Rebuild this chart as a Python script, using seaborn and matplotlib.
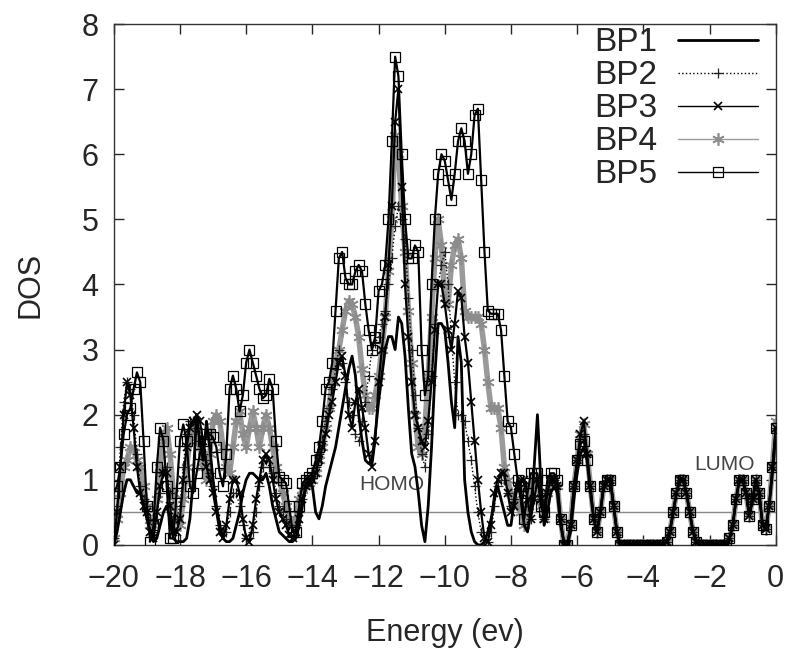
import numpy as np
import pandas as pd
import seaborn as sns
import matplotlib.pyplot as plt

# energy grid (eV); DOS values every 0.1 eV
energy = np.round(np.linspace(-20, 0, 201), 1)

bp1 = [0.0, 0.2, 0.5, 0.8, 1.0, 1.0, 0.9, 0.8, 0.8, 0.6,
       0.4, 0.2, 0.05, 0.1, 0.3, 0.5, 0.6, 0.4, 0.1, 0.05,
       0.05, 0.05, 0.1, 0.4, 1.0, 2.0, 1.6, 1.3, 1.9, 1.5,
       1.0, 0.6, 0.3, 0.1, 0.05, 0.05, 0.1, 0.3, 0.5, 0.8,
       1.0, 1.1, 1.1, 1.05, 1.0, 1.0, 1.1, 0.9, 0.6, 0.4,
       0.2, 0.15, 0.1, 0.05, 0.05, 0.1, 0.3, 0.6, 0.9, 0.95,
       0.9, 0.5, 0.4, 0.6, 0.9, 1.1, 1.3, 1.5, 1.8, 2.1,
       2.4, 2.7, 2.9, 2.6, 2.0, 1.6, 1.3, 1.25, 1.3, 1.7,
       2.2, 2.6, 3.0, 3.2, 3.2, 3.0, 3.5, 3.4, 2.9, 2.1,
       1.4, 1.2, 0.8, 0.3, 0.05, 0.6, 1.5, 2.6, 3.4, 3.4,
       3.3, 2.8, 2.2, 1.8, 3.2, 2.8, 1.0, 0.5, 0.2, 0.05,
       0.0, 0.0, 0.05, 0.2, 0.4, 0.7, 0.9, 0.7, 0.5, 0.3,
       0.3, 0.7, 1.0, 0.7, 0.3, 0.2, 0.5, 1.2, 2.0, 1.0,
       0.3, 0.5, 0.8, 0.9, 0.8, 0.3, 0.05, 0.0, 0.2, 0.7,
       1.1, 1.4, 1.5, 1.3, 0.8, 0.4, 0.2, 0.5, 0.9, 1.0,
       1.0, 0.6, 0.2, 0.0, 0.0, 0.0, 0.0, 0.0, 0.0, 0.0,
       0.0, 0.0, 0.0, 0.0, 0.0, 0.0, 0.0, 0.05, 0.2, 0.5,
       0.8, 1.0, 1.0, 0.8, 0.5, 0.2, 0.05, 0.0, 0.0, 0.0,
       0.0, 0.0, 0.0, 0.0, 0.0, 0.0, 0.1, 0.3, 0.7, 1.0,
       1.0, 0.8, 0.45, 0.7, 1.0, 0.8, 0.3, 0.25, 0.6, 1.1,
       1.7]

bp2 = [0.1, 0.6, 1.5, 2.2, 2.5, 2.4, 2.0, 1.4, 0.9, 0.7,
       0.6, 0.4, 0.2, 0.4, 0.8, 1.1, 1.2, 0.8, 0.4, 0.4,
       0.6, 1.2, 1.7, 1.9, 1.9, 1.8, 1.6, 1.4, 1.3, 1.1,
       0.9, 0.6, 0.3, 0.2, 0.2, 0.5, 0.8, 0.8, 0.6, 0.3,
       0.1, 0.1, 0.2, 0.5, 0.9, 1.2, 1.3, 1.2, 1.1, 0.8,
       0.6, 0.5, 0.4, 0.3, 0.2, 0.3, 0.5, 0.7, 0.9, 1.0,
       1.1, 1.2, 1.4, 1.6, 1.9, 2.1, 2.4, 2.7, 3.0, 2.8,
       2.5, 2.2, 2.0, 1.7, 1.6, 1.9, 2.2, 2.6, 3.0, 3.1,
       3.2, 3.4, 3.6, 4.0, 4.4, 4.9, 5.2, 5.0, 4.7, 3.8,
       3.0, 2.3, 1.8, 1.4, 1.2, 1.7, 2.6, 3.4, 4.0, 4.3,
       4.5, 4.0, 3.2, 2.5, 2.0, 2.0, 1.9, 1.6, 1.3, 0.9,
       0.5, 0.2, 0.0, 0.05, 0.2, 0.6, 0.9, 1.0, 1.0, 0.8,
       0.6, 0.7, 0.9, 0.9, 0.9, 0.6, 0.4, 0.7, 1.0, 0.7,
       0.4, 0.8, 1.0, 1.0, 0.9, 0.4, 0.0, 0.0, 0.3, 0.9,
       1.3, 1.6, 1.7, 1.4, 0.9, 0.4, 0.2, 0.5, 0.9, 1.0,
       1.0, 0.6, 0.2, 0.0, 0.0, 0.0, 0.0, 0.0, 0.0, 0.0,
       0.0, 0.0, 0.0, 0.0, 0.0, 0.0, 0.0, 0.05, 0.2, 0.5,
       0.8, 1.0, 1.0, 0.8, 0.5, 0.2, 0.05, 0.0, 0.0, 0.0,
       0.0, 0.0, 0.0, 0.0, 0.0, 0.0, 0.1, 0.3, 0.7, 1.0,
       1.0, 0.8, 0.45, 0.7, 1.0, 0.8, 0.3, 0.25, 0.6, 1.2,
       1.8]

bp3 = [0.0, 0.5, 1.2, 2.0, 2.5, 2.3, 1.8, 1.2, 0.8, 0.6,
       0.5, 0.2, 0.1, 0.5, 0.9, 1.1, 1.1, 0.6, 0.2, 0.2,
       0.4, 1.0, 1.5, 1.8, 1.9, 2.0, 1.9, 1.6, 1.2, 1.0,
       0.8, 0.5, 0.2, 0.1, 0.3, 0.7, 1.0, 1.0, 0.8, 0.4,
       0.1, 0.05, 0.3, 0.7, 1.0, 1.3, 1.4, 1.3, 1.0, 0.7,
       0.5, 0.4, 0.3, 0.15, 0.1, 0.2, 0.4, 0.7, 0.9, 1.0,
       1.0, 1.1, 1.3, 1.5, 1.7, 2.0, 2.2, 2.5, 2.8, 2.9,
       2.6, 2.0, 1.8, 2.2, 2.4, 2.1, 1.8, 1.4, 1.2, 1.6,
       2.5, 3.0, 3.5, 4.3, 5.2, 6.5, 7.0, 5.5, 4.0, 3.2,
       2.5, 2.0, 1.8, 1.6, 1.5, 1.9, 2.5, 3.3, 4.0, 4.0,
       3.7, 3.3, 3.0, 3.4, 3.9, 3.8, 3.2, 2.8, 2.2, 1.6,
       1.0, 0.5, 0.1, 0.05, 0.3, 0.8, 1.0, 1.1, 1.1, 0.8,
       0.5, 0.6, 0.9, 1.0, 1.0, 0.7, 0.4, 0.7, 1.0, 0.7,
       0.4, 0.8, 1.0, 1.0, 0.9, 0.4, 0.0, 0.0, 0.3, 0.9,
       1.3, 1.7, 1.9, 1.4, 0.9, 0.4, 0.2, 0.5, 0.9, 1.0,
       1.0, 0.6, 0.2, 0.0, 0.0, 0.0, 0.0, 0.0, 0.0, 0.0,
       0.0, 0.0, 0.0, 0.0, 0.0, 0.0, 0.0, 0.05, 0.2, 0.5,
       0.8, 1.0, 1.0, 0.8, 0.5, 0.2, 0.05, 0.0, 0.0, 0.0,
       0.0, 0.0, 0.0, 0.0, 0.0, 0.0, 0.1, 0.3, 0.7, 1.0,
       1.0, 0.8, 0.45, 0.7, 1.0, 0.8, 0.3, 0.25, 0.6, 1.2,
       1.8]

bp4 = [0.1, 0.4, 0.8, 1.2, 1.3, 1.5, 1.5, 1.3, 1.2, 0.9,
       0.6, 0.3, 0.3, 0.7, 1.2, 1.6, 1.8, 1.4, 0.8, 0.4,
       0.3, 0.7, 1.2, 1.6, 1.8, 1.7, 1.5, 1.2, 1.0, 1.4,
       1.9, 2.0, 1.9, 1.5, 1.2, 1.1, 1.5, 1.9, 2.05, 1.7,
       1.5, 1.8, 2.05, 1.8, 1.5, 1.8, 2.0, 1.8, 1.5, 1.2,
       1.0, 0.8, 0.6, 0.4, 0.3, 0.4, 0.7, 0.85, 0.9, 0.95,
       1.0, 1.1, 1.3, 1.5, 1.8, 2.1, 2.5, 2.8, 3.0, 3.3,
       3.6, 3.75, 3.7, 3.5, 3.2, 2.7, 2.3, 2.1, 2.1, 2.3,
       2.6, 3.0, 3.5, 4.2, 5.0, 6.3, 6.0, 5.2, 4.5, 3.6,
       2.8, 2.0, 1.5, 1.4, 1.8, 2.6, 3.5, 4.4, 5.0, 4.6,
       3.8, 3.7, 4.3, 4.6, 4.7, 4.4, 3.6, 3.5, 3.5, 3.5,
       3.5, 3.4, 3.0, 2.5, 2.1, 2.1, 2.1, 1.8, 1.2, 1.0,
       0.8, 0.7, 0.6, 0.5, 0.3, 0.6, 0.9, 1.0, 1.0, 0.6,
       0.4, 0.8, 1.0, 1.0, 0.9, 0.4, 0.0, 0.0, 0.3, 0.9,
       1.3, 1.7, 1.85, 1.4, 0.9, 0.4, 0.2, 0.5, 0.9, 1.0,
       1.0, 0.6, 0.2, 0.0, 0.0, 0.0, 0.0, 0.0, 0.0, 0.0,
       0.0, 0.0, 0.0, 0.0, 0.0, 0.0, 0.0, 0.05, 0.2, 0.5,
       0.8, 1.0, 1.0, 0.8, 0.5, 0.2, 0.05, 0.0, 0.0, 0.0,
       0.0, 0.0, 0.0, 0.0, 0.0, 0.0, 0.1, 0.3, 0.7, 1.0,
       1.0, 0.8, 0.45, 0.7, 1.0, 0.8, 0.3, 0.25, 0.6, 1.2,
       1.9]

bp5 = [0.8, 0.9, 1.2, 1.7, 2.0, 2.1, 2.4, 2.65, 2.5, 1.6,
       0.6, 0.05, 0.3, 1.2, 1.8, 1.6, 0.9, 0.1, 0.1, 0.8,
       1.6, 1.85, 1.6, 0.9, 0.8, 1.1, 1.4, 1.6, 1.7, 1.7,
       1.65, 1.5, 1.1, 0.9, 1.4, 2.4, 2.6, 2.4, 2.05, 2.3,
       2.8, 3.0, 2.8, 2.6, 2.4, 2.25, 2.3, 2.55, 2.4, 1.6,
       1.05, 1.0, 0.95, 0.6, 0.2, 0.2, 0.6, 0.95, 1.0, 1.05,
       1.1, 1.3, 1.5, 1.9, 2.4, 2.5, 2.8, 3.6, 4.4, 4.5,
       4.1, 4.0, 4.0, 4.2, 4.3, 4.2, 3.7, 3.3, 3.0, 3.2,
       3.9, 4.0, 4.3, 5.0, 6.2, 7.5, 7.2, 6.0, 5.0, 4.4,
       4.4, 4.6, 4.5, 3.0, 2.3, 2.6, 4.0, 5.0, 5.7, 6.0,
       5.9, 5.6, 5.3, 5.7, 6.2, 6.4, 6.2, 5.7, 6.0, 6.6,
       6.7, 5.6, 4.5, 3.6, 3.55, 3.55, 3.55, 3.3, 2.6, 1.9,
       1.8, 1.4, 1.0, 0.9, 0.4, 0.8, 1.1, 1.1, 1.1, 0.6,
       0.5, 1.0, 1.1, 1.1, 1.0, 0.4, 0.0, 0.0, 0.3, 0.9,
       1.3, 1.55, 1.6, 1.3, 0.9, 0.4, 0.2, 0.5, 0.9, 1.0,
       1.0, 0.6, 0.2, 0.0, 0.0, 0.0, 0.0, 0.0, 0.0, 0.0,
       0.0, 0.0, 0.0, 0.0, 0.0, 0.0, 0.0, 0.05, 0.2, 0.5,
       0.8, 1.0, 1.0, 0.8, 0.5, 0.2, 0.05, 0.0, 0.0, 0.0,
       0.0, 0.0, 0.0, 0.0, 0.0, 0.0, 0.1, 0.3, 0.7, 1.0,
       1.0, 0.8, 0.45, 0.7, 1.0, 0.8, 0.3, 0.25, 0.6, 1.2,
       1.8]

labels = ['BP1', 'BP2', 'BP3', 'BP4', 'BP5']
x_ticks = [-20, -18, -16, -14, -12, -10, -8, -6, -4, -2, 0]
y_ticks = [0, 1, 2, 3, 4, 5, 6, 7, 8]

sns.set_theme(style="ticks")
plt.rcParams['font.family'] = ['Liberation Sans', 'DejaVu Sans']

fig = plt.figure(figsize=(7.9, 6.51), dpi=100)
ax = fig.add_axes([0.144, 0.163, 0.838, 0.800])

# gnuplot-like reference line
ax.axhline(0.5, color='#888888', lw=1.0, zorder=1)

sns.lineplot(x=energy, y=bp1, ax=ax, color='black', lw=2.0, label=labels[0], zorder=6)
sns.lineplot(x=energy, y=bp2, ax=ax, color='black', lw=1.0, linestyle=':',
             marker='+', ms=7, mew=0.9, mec='#222222', label=labels[1], zorder=3)
sns.lineplot(x=energy, y=bp3, ax=ax, color='black', lw=1.6,
             marker='x', ms=6, mew=1.2, mec='black', label=labels[2], zorder=4)
# the dense asterisks of BP4 read as a wide grey band
sns.lineplot(x=energy, y=bp4, ax=ax, color='#9a9a9a', lw=4.0,
             marker=(6, 2, 0), ms=9, mew=1.2, mec='#8c8c8c', label=labels[3], zorder=2)
sns.lineplot(x=energy, y=bp5, ax=ax, color='black', lw=1.6,
             marker='s', ms=7.5, mew=0.9, mec='black', mfc='none', label=labels[4], zorder=5)

ax.text(-11.6, 0.92, 'HOMO', fontsize=15, color='#444444', ha='center', va='center')
ax.text(-1.55, 1.23, 'LUMO', fontsize=15, color='#444444', ha='center', va='center')

ax.set_xlim(-20, 0)
ax.set_ylim(0, 8)
ax.set_xticks(x_ticks)
ax.set_yticks(y_ticks)
ax.tick_params(direction='in', length=7, width=1, top=True, right=True, labelsize=22)
ax.tick_params(axis='x', pad=14)
ax.tick_params(axis='y', pad=11)
for s in ax.spines.values():
    s.set_linewidth(1.0)
    s.set_color('#333333')

ax.set_xlabel('Energy (ev)', fontsize=22, labelpad=17)
ax.set_ylabel('DOS', fontsize=22, labelpad=26)

leg = ax.legend(loc='upper right', bbox_to_anchor=(1.013, 1.045), markerfirst=False, frameon=False,
                fontsize=24, handlelength=2.4, labelspacing=0.06, borderpad=0.3,
                handletextpad=0.6, numpoints=1)
for h in leg.get_lines()[1:]:
    h.set_linewidth(1.0)

fig.savefig('out.png', dpi=100)
